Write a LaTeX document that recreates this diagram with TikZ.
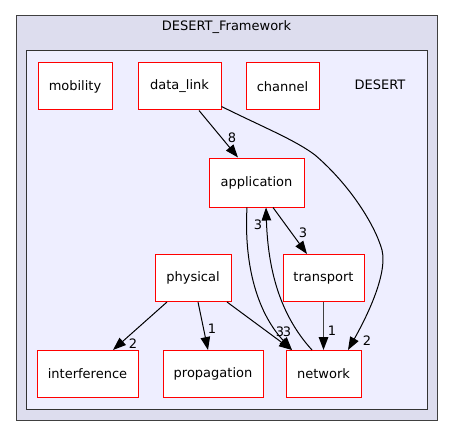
\documentclass[tikz,border=0pt]{standalone}
\usepackage{fontspec}
\setmainfont{DejaVu Sans}
\usetikzlibrary{arrows.meta}
\definecolor{outerfill}{HTML}{DDDDEE}
\definecolor{innerfill}{HTML}{EEEEFF}
\definecolor{outerdraw}{HTML}{404040}
\tikzset{
  dirbox/.style={draw=red, fill=white, line width=1pt, minimum height=47pt, inner sep=0pt, font=\fontsize{13}{15}\selectfont},
  dep/.style={draw=black, line width=1pt, -{Triangle[length=13pt,width=9.5pt]}},
  lbl/.style={inner sep=0pt, font=\fontsize{13}{15}\selectfont}
}
\begin{document}
\begin{tikzpicture}[x=1pt,y=-1pt]
\useasboundingbox (0,0) rectangle (453,436);
\draw[outerdraw, fill=outerfill, line width=1pt] (16,16) rectangle (437,420);
\node[lbl] (title) at (226.5,27) {DESERT\_Framework};
\draw[black!80, fill=innerfill, line width=1pt] (26,51) rectangle (427,409);
\node[lbl] (desert) at (380,85) {DESERT};

\node[dirbox, minimum width=74pt] (mob) at (75,86.5) {mobility};
\node[dirbox, minimum width=83pt] (dl) at (179.5,86.5) {data\_link};
\node[dirbox, minimum width=73pt] (ch) at (282.5,86.5) {channel};
\node[dirbox, minimum width=95pt, minimum height=49pt] (app) at (256.5,182.5) {application};
\node[dirbox, minimum width=76pt] (ph) at (193,278) {physical};
\node[dirbox, minimum width=81pt] (tr) at (323.5,278) {transport};
\node[dirbox, minimum width=75pt] (net) at (323.5,374) {network};
\node[dirbox, minimum width=100pt] (prop) at (213,374) {propagation};
\node[dirbox, minimum width=101pt] (int) at (87.5,374) {interference};

\draw[dep] ([xshift=19.5pt]dl.south) -- ([xshift=-18.5pt]app.north);
\node[lbl] (l1) at (232,138) {8};

\draw[dep] ([yshift=4pt]dl.south east) .. controls (265,128) and (295,140) .. (315,155)
  .. controls (350,185) and (375,225) .. (382,250)
  .. controls (388,275) and (365,320) .. ([xshift=24.5pt]net.north);
\node[lbl] (l2) at (367,341) {2};

\draw[dep] ([xshift=-9.5pt]app.south) .. controls (244,260) and (255,310) .. ([xshift=-31.5pt]net.north);
\node[lbl] (l3) at (280,332) {3};

\draw[dep] ([xshift=-11.5pt]net.north) .. controls (280,315) and (268,270) .. ([xshift=9.5pt]app.south);
\node[lbl] (l4) at (258,225) {3};

\draw[dep] ([xshift=16.5pt]app.south) -- ([xshift=-16.5pt]tr.north);
\node[lbl] (l5) at (303,233) {3};

\draw[dep, draw=outerdraw, line width=1.5pt, -{Triangle[length=13pt,width=9.5pt,color=black]}] (tr.south) -- (net.north);
\node[lbl] (l6) at (332,331) {1};

\draw[dep] ([xshift=-26pt]ph.south) -- ([xshift=25.5pt]int.north);
\node[lbl] (l7) at (133,344) {2};

\draw[dep] ([xshift=5pt]ph.south) -- ([xshift=-5pt]prop.north);
\node[lbl] (l8) at (212,329) {1};

\draw[dep] ([xshift=34pt]ph.south) -- ([xshift=-31.5pt]net.north);
\node[lbl] (l9) at (287,332) {3};
\end{tikzpicture}
\end{document}
